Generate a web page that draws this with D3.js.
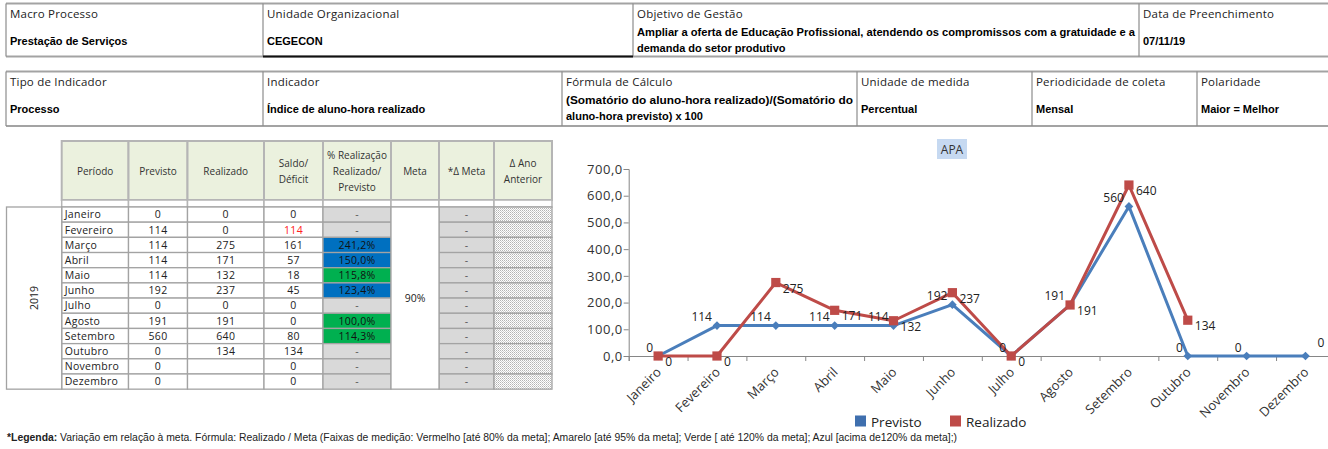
<!DOCTYPE html>
<html>
<head>
<meta charset="utf-8">
<script src="https://cdn.jsdelivr.net/npm/d3@7"></script>
<style>
body { margin: 0; background: #fff; }
svg text { font-family: "Open Sans", sans-serif; fill: #222; }
</style>
</head>
<body>
<svg id="chart" width="1328" height="449"></svg>
<script>
// ---- data read from the sheet ----
var months = ["Janeiro", "Fevereiro", "Março", "Abril", "Maio", "Junho", "Julho", "Agosto", "Setembro", "Outubro", "Novembro", "Dezembro"];
var previsto = [0, 114, 114, 114, 114, 192, 0, 191, 560, 0, 0, 0];
var realizado = [0, 0, 275, 171, 132, 237, 0, 191, 640, 134, null, null];
var saldo = [0, -114, 161, 57, 18, 45, 0, 0, 80, 134, 0, 0];
var realizacao = [null, null, 241.2, 150.0, 115.8, 123.4, null, 100.0, 114.3, null, null, null];
var yTicks = [0, 100, 200, 300, 400, 500, 600, 700];
var seriesNames = ["Previsto", "Realizado"];
var ano = "2019";
var meta = "90%";

var infoLabels1 = ["Macro Processo", "Unidade Organizacional", "Objetivo de Gestão", "Data de Preenchimento"];
var infoValues1 = [["Prestação de Serviços"], ["CEGECON"],
	["Ampliar a oferta de Educação Profissional, atendendo os compromissos com a gratuidade e a", "demanda do setor produtivo"],
	["07/11/19"]];
var infoLabels2 = ["Tipo de Indicador", "Indicador", "Fórmula  de Cálculo", "Unidade de medida", "Periodicidade de coleta", "Polaridade"];
var infoValues2 = [["Processo"], ["Índice de aluno-hora realizado"],
	["(Somatório do aluno-hora realizado)/(Somatório do", "aluno-hora previsto) x 100"],
	["Percentual"], ["Mensal"], ["Maior = Melhor"]];

var colHeaders = [["Período"], ["Previsto"], ["Realizado"], ["Saldo/", "Déficit"],
	["% Realização", "Realizado/", "Previsto"], ["Meta"], ["*Δ Meta"], ["Δ Ano", "Anterior"]];

var chartTitle = "APA";
var footBold = "*Legenda:";
var footText = " Variação em relação à meta. Fórmula: Realizado / Meta (Faixas de medição: Vermelho [até 80% da meta]; Amarelo [até 95% da meta]; Verde [ até 120% da meta]; Azul [acima de120% da meta];)";

// ---- drawing ----
var svg = d3.select("#chart");
var narrow = '"Liberation Sans Narrow", "Liberation Sans", sans-serif';
var border = "#a3a3a3";
var blue = "#4a7ebb", red = "#be4b48";

function drawInfoRow(labels, values, edges, y0, y1) {
	var g = svg.append("g");
	g.append("line").attr("x1", edges[0]).attr("x2", 1340).attr("y1", y0).attr("y2", y0)
		.attr("stroke", border).attr("stroke-width", 2);
	g.append("line").attr("x1", edges[0]).attr("x2", 1340).attr("y1", y1).attr("y2", y1)
		.attr("stroke", border).attr("stroke-width", 2);
	edges.slice(0, -1).forEach(function(x) {
		g.append("line").attr("x1", x).attr("x2", x).attr("y1", y0).attr("y2", y1)
			.attr("stroke", "#8c8c8c").attr("stroke-width", 1.2);
	});
	labels.forEach(function(l, i) {
		var x = edges[i] + 4;
		g.append("text").attr("x", x).attr("y", y0 + 14.5)
			.style("font-size", "11.5px").style("letter-spacing", "0.2px").text(l);
		var lines = values[i];
		var base = lines.length > 1 ? y0 + 32 : y0 + 41.5;
		lines.forEach(function(t, j) {
			var t1 = g.append("text").attr("x", x).attr("y", base + j * 16)
				.style("font-family", narrow).style("font-weight", "bold")
				.style("font-size", "11px").style("fill", "#000").text(t);
			// wrapped first lines fill the cell width, as in the sheet
			if (lines.length > 1 && j == 0)
				t1.attr("textLength", edges[i + 1] - edges[i] - 8).attr("lengthAdjust", "spacingAndGlyphs");
		});
	});
	return g;
}

var row1 = drawInfoRow(infoLabels1, infoValues1, [6, 263, 633, 1139, 1340], 3.5, 56.5);
row1.append("line").attr("x1", 263).attr("x2", 633).attr("y1", 56.5).attr("y2", 56.5)
	.attr("stroke", "#111").attr("stroke-width", 2);
drawInfoRow(infoLabels2, infoValues2, [6, 263, 562, 857, 1032, 1197, 1340], 71.5, 126);

// ---- monthly table ----
var cols = [6.5, 61.7, 128.5, 187.5, 264, 323, 391, 439, 494, 552];
var headTop = 141, headBottom = 200, dataTop = 207, rowH = 15.18;
var dataBottom = dataTop + rowH * months.length;

var defs = svg.append("defs");
var pat = defs.append("pattern").attr("id", "dots").attr("patternUnits", "userSpaceOnUse")
	.attr("width", 2).attr("height", 2);
pat.append("rect").attr("width", 2).attr("height", 2).attr("fill", "#fff");
pat.append("rect").attr("width", 1).attr("height", 1).attr("fill", "#b4b4b4");
pat.append("rect").attr("x", 1).attr("y", 1).attr("width", 1).attr("height", 1).attr("fill", "#d0d0d0");

var table = svg.append("g");

colHeaders.forEach(function(lines, i) {
	var x0 = cols[i + 1], x1 = cols[i + 2];
	table.append("rect").attr("x", x0).attr("y", headTop).attr("width", x1 - x0)
		.attr("height", headBottom - headTop).attr("fill", "#ebf1de")
		.attr("stroke", "#b5b5b5").attr("stroke-width", 2);
	table.append("rect").attr("x", x0).attr("y", headBottom).attr("width", x1 - x0)
		.attr("height", dataTop - headBottom).attr("fill", "#fff")
		.attr("stroke", "#b5b5b5").attr("stroke-width", 1.5);
	var first = 171 - (lines.length - 1) * 8 + 3.5;
	lines.forEach(function(t, j) {
		table.append("text").attr("x", (x0 + x1) / 2).attr("y", first + j * 16)
			.attr("text-anchor", "middle").style("font-size", "10px").style("fill", "#333").text(t);
	});
});

var fmt = function(v) { return d3.format(".1f")(v).replace(".", ",") + "%"; };
function bandColor(v) {
	if (v > 120) return "#0070c0";
	if (v > 95) return "#00b050";
	if (v > 80) return "#ffff00";
	return "#ff0000";
}

function cell(x0, x1, y, fill) {
	table.append("rect").attr("x", x0).attr("y", y).attr("width", x1 - x0).attr("height", rowH)
		.attr("fill", fill).attr("stroke", border).attr("stroke-width", 1.3);
}
function cellText(x, y, t, anchor, color) {
	table.append("text").attr("x", x).attr("y", y + rowH / 2 + 3.8)
		.attr("text-anchor", anchor || "middle").style("font-size", "10.5px")
		.style("letter-spacing", "0.3px").style("fill", color || "#222").text(t);
}

months.forEach(function(m, i) {
	var y = dataTop + i * rowH;
	cell(cols[1], cols[2], y, "#fff");
	cellText(cols[1] + 3, y, m, "start");
	cell(cols[2], cols[3], y, "#fff");
	cellText((cols[2] + cols[3]) / 2, y, previsto[i]);
	cell(cols[3], cols[4], y, "#fff");
	cellText((cols[3] + cols[4]) / 2, y, realizado[i] == null ? "" : realizado[i]);
	cell(cols[4], cols[5], y, "#fff");
	cellText((cols[4] + cols[5]) / 2, y, Math.abs(saldo[i]), "middle", saldo[i] < 0 ? "#ff2020" : "#222");
	var r = realizacao[i];
	cell(cols[5], cols[6], y, r == null ? "#d9d9d9" : bandColor(r));
	cellText((cols[5] + cols[6]) / 2, y, r == null ? "-" : fmt(r), "middle", r == null ? "#555" : "#111");
	cell(cols[7], cols[8], y, "#d9d9d9");
	cellText((cols[7] + cols[8]) / 2, y, "-", "middle", "#555");
	cell(cols[8], cols[9], y, "url(#dots)");
});

// merged cells: year and meta
table.append("rect").attr("x", cols[0]).attr("y", dataTop).attr("width", cols[1] - cols[0])
	.attr("height", dataBottom - dataTop).attr("fill", "#fff").attr("stroke", border).attr("stroke-width", 1.3);
table.append("text").attr("transform", "translate(" + ((cols[0] + cols[1]) / 2 + 3.5) + "," + ((dataTop + dataBottom) / 2) + ") rotate(-90)")
	.attr("text-anchor", "middle").style("font-size", "10.5px").text(ano);
table.append("rect").attr("x", cols[6]).attr("y", dataTop).attr("width", cols[7] - cols[6])
	.attr("height", dataBottom - dataTop).attr("fill", "#fff").attr("stroke", border).attr("stroke-width", 1.3);
table.append("text").attr("x", (cols[6] + cols[7]) / 2).attr("y", (dataTop + dataBottom) / 2 + 4)
	.attr("text-anchor", "middle").style("font-size", "10.5px").text(meta);

// ---- line chart ----
var x = d3.scaleBand().domain(months).range([628.7, 628.7 + 58.85 * months.length]);
var y = d3.scaleLinear().domain([0, 700]).range([356, 169]);
var cx = function(i) { return x(months[i]) + x.bandwidth() / 2; };

var chart = svg.append("g");

var yAxis = chart.append("g").attr("transform", "translate(628.7,0)")
	.call(d3.axisLeft(y).tickValues(yTicks).tickSize(5).tickPadding(1)
		.tickFormat(function(d) { return d3.format(".1f")(d).replace(".", ","); }));
yAxis.selectAll("path, line").attr("stroke", "#868686");
yAxis.selectAll("text").style("font-size", "13px").style("letter-spacing", "0.5px")
	.style("font-family", '"Open Sans", sans-serif').style("fill", "#333");

var edgeScale = d3.scaleLinear().domain([0, months.length]).range(x.range());
var xAxis = chart.append("g").attr("transform", "translate(0,356)")
	.call(d3.axisBottom(edgeScale).tickValues(d3.range(months.length + 1)).tickSize(5).tickFormat(""));
xAxis.selectAll("path, line").attr("stroke", "#868686");

chart.selectAll(".cat").data(months).enter().append("text")
	.attr("transform", function(d, i) { return "translate(" + (cx(i) + 4) + ",373) rotate(-45)"; })
	.attr("text-anchor", "end").style("font-size", "13px").style("fill", "#333").text(function(d) { return d; });

var line = d3.line().defined(function(d) { return d != null; })
	.x(function(d, i) { return cx(i); }).y(function(d) { return y(d); });

chart.append("path").datum(previsto).attr("d", line).attr("fill", "none")
	.attr("stroke", blue).attr("stroke-width", 3).attr("stroke-linejoin", "round");
chart.selectAll(".prev").data(previsto).enter().append("path")
	.attr("d", d3.symbol(d3.symbolSquare, 38))
	.attr("transform", function(d, i) { return "translate(" + cx(i) + "," + y(d) + ") rotate(45)"; })
	.attr("fill", blue);

chart.append("path").datum(realizado).attr("d", line).attr("fill", "none")
	.attr("stroke", red).attr("stroke-width", 3).attr("stroke-linejoin", "round");
chart.selectAll(".real").data(realizado.filter(function(d) { return d != null; })).enter().append("path")
	.attr("d", d3.symbol(d3.symbolSquare, 85))
	.attr("transform", function(d, i) { return "translate(" + cx(i) + "," + y(d) + ")"; })
	.attr("fill", red);

// data labels: previsto to the upper left, realizado to the lower right
chart.selectAll(".plab").data(previsto).enter().append("text")
	.attr("x", function(d, i) { return i == previsto.length - 1 ? cx(i) + 12 : cx(i) - 5; })
	.attr("y", function(d, i) { return y(d) - (i == previsto.length - 1 ? 9 : 4.5); })
	.attr("text-anchor", function(d, i) { return i == previsto.length - 1 ? "start" : "end"; })
	.style("font-size", "12px").style("fill", "#222").text(function(d) { return d; });
chart.selectAll(".rlab").data(realizado.filter(function(d) { return d != null; })).enter().append("text")
	.attr("x", function(d, i) { return cx(i) + 7; })
	.attr("y", function(d) { return y(d) + 10; })
	.style("font-size", "12px").style("fill", "#222").text(function(d) { return d; });

// title
chart.append("rect").attr("x", 937).attr("y", 139).attr("width", 30).attr("height", 20).attr("fill", "#c6d9f1");
chart.append("text").attr("x", 952).attr("y", 153.5).attr("text-anchor", "middle")
	.style("font-size", "12px").style("fill", "#333").text(chartTitle);

// legend
var legendX = [855, 950];
seriesNames.forEach(function(n, i) {
	chart.append("rect").attr("x", legendX[i]).attr("y", 415.5).attr("width", 11).attr("height", 11)
		.attr("fill", i == 0 ? "#3f6fae" : red);
	chart.append("text").attr("x", legendX[i] + 16).attr("y", 426.5)
		.style("font-size", "13.5px").style("fill", "#222").text(n);
});

// footnote
var foot = svg.append("text").attr("x", 7).attr("y", 441)
	.attr("textLength", 950).attr("lengthAdjust", "spacingAndGlyphs")
	.style("font-family", narrow).style("font-size", "10px").style("fill", "#222");
foot.append("tspan").style("font-weight", "bold").text(footBold);
foot.append("tspan").text(footText);
</script>
</body>
</html>
